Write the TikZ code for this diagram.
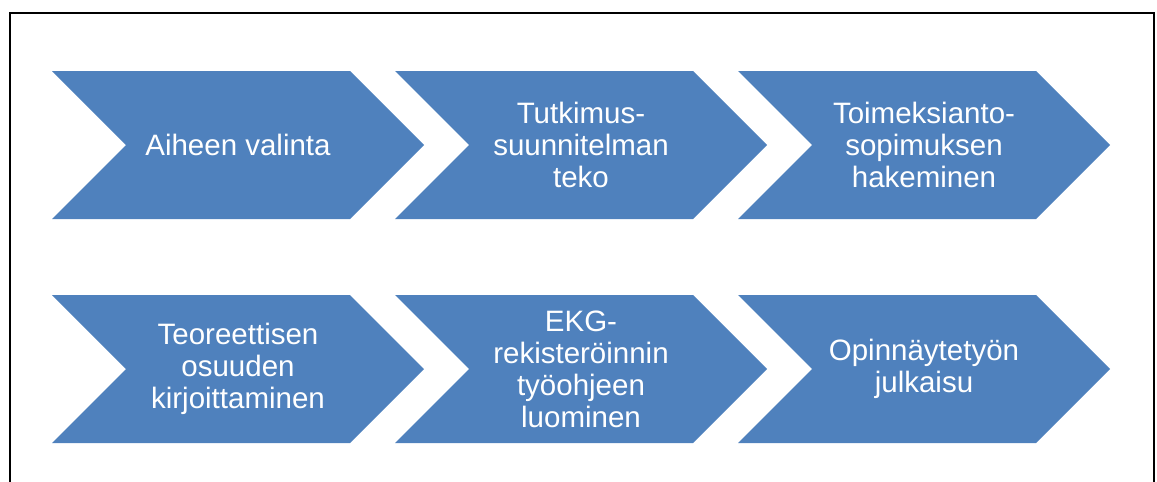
\documentclass[tikz,border=0pt]{standalone}
\usepackage{fontspec}
\setmainfont{Liberation Sans}
\usepackage{xcolor}
\usepackage{tikz}
\definecolor{frame}{HTML}{000000}
\definecolor{stepblue}{HTML}{4F81BD}
\tikzset{
  chev/.style={fill=stepblue, draw=none},
  lab/.style={text=white, align=center, inner sep=0pt,
    font=\fontsize{29.5}{32}\selectfont},
  chevron/.pic={
    \fill[chev] (0,0) -- (298,0) -- (372,74) -- (298,148) -- (0,148)
      -- (74,74) -- cycle;
  }
}

\begin{document}
\begin{tikzpicture}[x=1pt, y=-1pt]
  \useasboundingbox (0,0) rectangle (1157,482);
  \begin{scope}
    \clip (0,0) rectangle (1157,482);
    \draw[frame, line width=2.5pt] (10,13) rectangle (1154,500);
  \end{scope}

  % top row
  \pic at (52,71) {chevron};
  \pic at (395,71) {chevron};
  \pic at (738,71) {chevron};
  % bottom row
  \pic at (52,295) {chevron};
  \pic at (395,295) {chevron};
  \pic at (738,295) {chevron};

  \node[lab] (aihe) at (238,145) {Aiheen valinta};
  \node[lab] (suunn) at (581,145) {Tutkimus-\\suunnitelman\\teko};
  \node[lab] (toimeks) at (924,145) {Toimeksianto-\\sopimuksen\\hakeminen};
  \node[lab] (teoria) at (238,369) {Teoreettisen\\osuuden\\kirjoittaminen};
  \node[lab] (ekg) at (581,369) {EKG-\\rekisteröinnin\\työohjeen\\luominen};
  \node[lab] (julk) at (924,369) {Opinnäytetyön\\julkaisu};
\end{tikzpicture}
\end{document}
